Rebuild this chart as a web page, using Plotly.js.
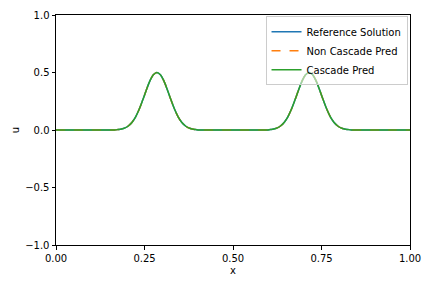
<!DOCTYPE html>
<html><head><meta charset="utf-8">
<script src="https://cdn.plot.ly/plotly-3.0.1.min.js"></script>
<style>html,body{margin:0;padding:0;background:#fff;}</style>
</head><body><div id="plot" style="width:432px;height:288px;"></div>
<script>
// x positions and values
const xVals = [0, 0.05, 0.10, 0.15, 0.165, 0.175, 0.185, 0.195, 0.205, 0.215, 0.225, 0.235, 0.245, 0.255, 0.265, 0.275, 0.285,
  0.295, 0.305, 0.315, 0.325, 0.335, 0.345, 0.355, 0.365, 0.375, 0.385, 0.395, 0.405, 0.45, 0.50, 0.55,
  0.595, 0.605, 0.615, 0.625, 0.635, 0.645, 0.655, 0.665, 0.675, 0.685, 0.695, 0.705, 0.715,
  0.725, 0.735, 0.745, 0.755, 0.765, 0.775, 0.785, 0.795, 0.805, 0.815, 0.825, 0.835, 0.85, 0.90, 0.95, 1.0];
const refU = [0, 0, 0, 0, 0.001, 0.004, 0.008, 0.018, 0.037, 0.068, 0.115, 0.180, 0.260, 0.346, 0.425, 0.480, 0.500,
  0.480, 0.425, 0.346, 0.260, 0.180, 0.115, 0.068, 0.037, 0.018, 0.008, 0.004, 0.001, 0, 0, 0,
  0.001, 0.004, 0.008, 0.018, 0.037, 0.068, 0.115, 0.180, 0.260, 0.346, 0.425, 0.480, 0.500,
  0.480, 0.425, 0.346, 0.260, 0.180, 0.115, 0.068, 0.037, 0.018, 0.008, 0.004, 0.001, 0, 0, 0, 0];
const nonCascadeU = refU.slice();
const cascadeU = refU.slice();
const xTicks = [0, 0.25, 0.5, 0.75, 1.0];
const xTickText = ["0.00", "0.25", "0.50", "0.75", "1.00"];
const yTicks = [-1, -0.5, 0, 0.5, 1];
const yTickText = ["\u22121.0", "\u22120.5", "0.0", "0.5", "1.0"];

const traces = [
  {x: xVals, y: refU, name: "Reference Solution", mode: "lines", line: {color: "#1f77b4", width: 1.5, shape: "spline", smoothing: 1}},
  {x: xVals, y: nonCascadeU, name: "Non Cascade Pred", mode: "lines", line: {color: "#ff7f0e", width: 1.5, dash: "dash", shape: "spline", smoothing: 1}},
  {x: xVals, y: cascadeU, name: "Cascade Pred", mode: "lines", line: {color: "#2ca02c", width: 1.5, shape: "spline", smoothing: 1}}
];
const axisCommon = {showgrid: false, zeroline: false, showline: true, linecolor: "#000", linewidth: 1, mirror: true,
  ticks: "outside", ticklen: 3.5, tickwidth: 1, tickcolor: "#000", tickfont: {size: 10, color: "#000"}};
const layout = {
  width: 432, height: 288,
  margin: {l: 56, r: 22, t: 15, b: 43},
  paper_bgcolor: "#fff", plot_bgcolor: "#fff",
  font: {family: "DejaVu Sans", size: 10, color: "#000"},
  showlegend: true,
  legend: {x: 0.993, xanchor: "right", y: 0.995, yanchor: "top", bgcolor: "rgba(255,255,255,0.55)",
    bordercolor: "#cccccc", borderwidth: 1, font: {size: 10}, itemwidth: 30, tracegroupgap: 0},
  xaxis: Object.assign({}, axisCommon, {range: [0, 1], tickvals: xTicks, ticktext: xTickText,
    title: {text: "x", font: {size: 10}, standoff: 4}}),
  yaxis: Object.assign({}, axisCommon, {range: [-1, 1], tickvals: yTicks, ticktext: yTickText,
    title: {text: "u", font: {size: 10}, standoff: 3}})
};
Plotly.newPlot("plot", traces, layout, {staticPlot: true, displayModeBar: false});
</script></body></html>
